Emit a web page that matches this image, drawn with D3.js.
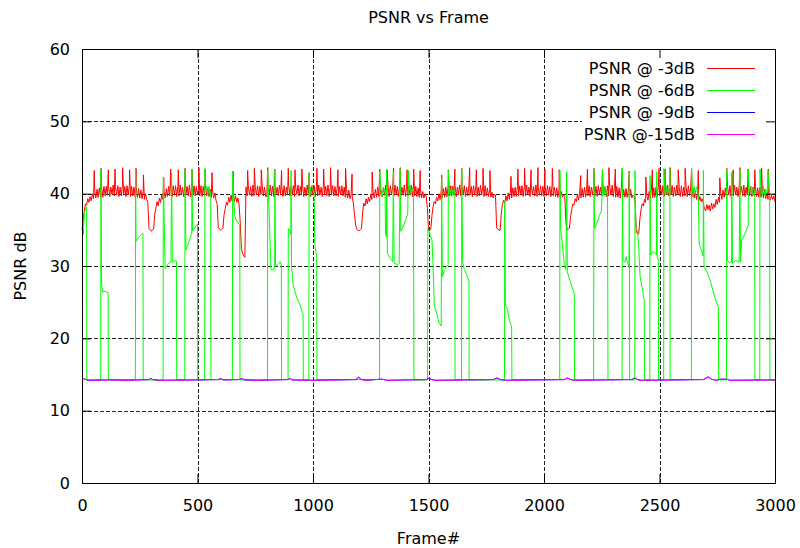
<!DOCTYPE html>
<html>
<head>
<meta charset="utf-8">
<script src="https://d3js.org/d3.v7.min.js"></script>
<style>
    html, body { margin: 0; padding: 0; background: #fff; overflow: hidden; }
    text { font-family: "DejaVu Sans", sans-serif; font-size: 16px; fill: #000; }
    .grid line { stroke: #222; stroke-width: 1; stroke-dasharray: 4,2; }
</style>
</head>
<body>
<svg id="chart" width="800" height="548"></svg>
<script>
// axis ticks
var xTicks = [0, 500, 1000, 1500, 2000, 2500, 3000];
var yTicks = [0, 10, 20, 30, 40, 50, 60];

// PSNR @ -3dB, one reading every 5 frames (frame 0..3000), 20 per row
var redStep = 5;
var redValues = [
    35.0, 36.2, 37.6, 38.6, 38.4, 39.3, 38.8, 39.6, 39.0, 40.0, 39.3, 40.4, 39.4, 40.6, 39.5, 40.8, 39.6, 40.9, 39.5, 41.0,
    39.7, 41.0, 39.8, 41.1, 39.6, 40.9, 39.9, 41.2, 39.7, 41.0, 39.8, 41.1, 39.6, 40.9, 39.7, 41.2, 39.8, 41.0, 39.6, 41.1,
    39.8, 41.1, 39.6, 41.0, 39.7, 40.9, 39.6, 40.8, 39.5, 40.7, 39.4, 40.5, 39.3, 40.3, 39.2, 40.0, 39.2, 38.8, 35.2, 35.0,
    34.8, 35.0, 35.1, 37.2, 38.0, 38.9, 38.3, 39.4, 38.8, 39.8, 39.2, 40.3, 39.4, 40.7, 39.6, 41.0, 39.7, 40.9, 39.6, 41.1,
    39.8, 41.1, 39.6, 41.0, 39.7, 41.2, 39.8, 40.9, 39.6, 41.1, 39.9, 41.0, 39.7, 41.2, 39.6, 40.9, 39.8, 41.1, 39.7, 41.0,
    39.8, 40.9, 39.7, 41.1, 39.6, 41.0, 39.8, 40.9, 39.7, 40.8, 39.6, 40.6, 39.5, 40.4, 39.4, 40.1, 39.1, 38.6, 35.3, 35.1,
    35.0, 35.1, 35.2, 37.1, 37.9, 38.8, 38.4, 39.5, 38.8, 39.8, 39.0, 39.9, 38.9, 39.7, 38.8, 39.4, 38.5, 36.0, 32.4, 31.8,
    31.4, 31.2, 40.9, 39.7, 41.1, 39.8, 41.0, 39.6, 41.2, 39.7, 40.9, 39.8, 41.1, 39.6, 41.0, 39.9, 41.2, 39.7, 40.9, 39.6,
    39.6, 40.9, 39.8, 41.2, 39.7, 41.0, 39.6, 41.1, 39.9, 40.9, 39.7, 41.2, 39.8, 41.0, 39.6, 41.1, 39.7, 40.9, 39.8, 41.2,
    39.7, 41.0, 39.8, 41.1, 39.6, 40.9, 39.9, 41.2, 39.7, 41.0, 39.8, 41.1, 39.6, 40.9, 39.7, 41.2, 39.8, 41.0, 39.6, 41.1,
    39.8, 41.1, 39.6, 41.0, 39.7, 41.2, 39.8, 40.9, 39.6, 41.1, 39.9, 41.0, 39.7, 41.2, 39.6, 40.9, 39.8, 41.1, 39.7, 41.0,
    39.7, 40.9, 39.6, 41.0, 39.8, 41.1, 39.7, 40.9, 39.5, 40.7, 39.4, 40.5, 39.3, 39.9, 39.5, 38.6, 37.0, 35.6, 35.1, 34.9,
    34.9, 35.0, 35.2, 37.5, 38.7, 38.3, 39.3, 38.6, 39.5, 38.9, 39.9, 39.2, 40.3, 39.4, 40.6, 39.5, 40.9, 39.6, 41.0, 39.7,
    39.6, 40.9, 39.8, 41.2, 39.7, 41.0, 39.6, 41.1, 39.9, 40.9, 39.7, 41.2, 39.8, 41.0, 39.6, 41.1, 39.7, 40.9, 39.8, 41.2,
    39.6, 40.9, 39.7, 41.1, 39.8, 41.2, 39.6, 40.9, 39.7, 41.0, 39.6, 40.8, 39.5, 40.7, 39.4, 40.3, 39.4, 39.9, 39.6, 38.0,
    35.0, 35.0, 35.1, 37.0, 38.2, 38.9, 38.6, 39.5, 39.0, 40.0, 39.2, 40.4, 39.4, 40.7, 39.5, 40.9, 39.6, 41.0, 39.7, 41.1,
    39.7, 41.0, 39.8, 41.1, 39.6, 40.9, 39.9, 41.2, 39.7, 41.0, 39.8, 41.1, 39.6, 40.9, 39.7, 41.2, 39.8, 41.0, 39.6, 41.1,
    39.8, 41.1, 39.6, 40.9, 39.7, 41.2, 39.8, 41.0, 39.6, 41.1, 39.7, 40.8, 39.6, 40.6, 39.5, 40.2, 39.4, 39.9, 39.8, 35.3,
    35.1, 35.0, 34.9, 37.2, 38.5, 39.1, 38.7, 39.7, 39.0, 40.1, 39.2, 40.5, 39.4, 40.8, 39.6, 40.9, 39.6, 41.0, 39.7, 41.1,
    39.8, 41.1, 39.6, 41.0, 39.7, 41.2, 39.8, 40.9, 39.6, 41.1, 39.9, 41.0, 39.7, 41.2, 39.6, 40.9, 39.8, 41.1, 39.7, 41.0,
    39.6, 40.9, 39.7, 41.1, 39.8, 41.0, 39.6, 41.2, 39.7, 40.9, 39.6, 40.8, 39.5, 40.6, 39.5, 40.3, 39.5, 39.9, 39.6, 36.0,
    35.0, 35.1, 35.2, 36.8, 37.8, 38.6, 38.4, 39.3, 38.9, 39.9, 39.1, 40.4, 39.4, 40.7, 39.5, 40.9, 39.5, 41.0, 39.7, 41.1,
    39.6, 40.9, 39.8, 41.2, 39.7, 41.0, 39.6, 41.1, 39.9, 40.9, 39.7, 41.2, 39.8, 41.0, 39.6, 41.1, 39.7, 40.9, 39.8, 41.2,
    39.6, 40.9, 39.5, 41.0, 39.5, 40.8, 39.4, 40.9, 39.4, 40.6, 39.5, 40.7, 39.5, 40.5, 39.4, 40.6, 39.4, 39.8, 39.6, 38.5,
    34.6, 34.5, 34.4, 36.5, 37.8, 38.6, 38.3, 39.2, 38.8, 39.8, 39.1, 40.3, 39.3, 40.6, 39.4, 40.8, 39.5, 40.9, 39.6, 41.0,
    39.7, 41.0, 39.8, 41.1, 39.6, 40.9, 39.9, 41.2, 39.7, 41.0, 39.8, 41.1, 39.6, 40.9, 39.7, 41.2, 39.8, 41.0, 39.6, 41.1,
    39.6, 40.9, 39.7, 41.0, 39.6, 41.1, 39.7, 40.8, 39.5, 40.7, 39.4, 40.4, 39.2, 40.0, 39.0, 39.6, 38.9, 39.3, 38.6, 37.9,
    37.6, 38.5, 37.8, 38.4, 37.6, 38.7, 37.9, 38.6, 38.1, 39.2, 38.5, 39.5, 38.8, 40.1, 39.2, 40.5, 39.5, 40.8, 39.6, 40.9,
    39.8, 41.1, 39.6, 41.0, 39.7, 41.2, 39.8, 40.9, 39.6, 41.1, 39.9, 41.0, 39.7, 41.2, 39.6, 40.9, 39.8, 41.1, 39.7, 41.0,
    39.6, 40.9, 39.7, 41.0, 39.6, 40.8, 39.5, 40.9, 39.5, 40.7, 39.4, 40.6, 39.3, 40.2, 39.2, 39.9, 39.1, 39.8, 39.2, 39.7,
    38.9
];

// I-frame peaks of the -3dB curve
var spikeFrames = [53, 83, 114, 143, 176, 206, 234, 266, 354, 384, 417, 446, 476, 506, 534, 563,
    654, 717, 746, 776, 804, 834, 864, 893, 922, 952, 983, 1017, 1046, 1076, 1108, 1141, 1169,
    1256, 1289, 1321, 1349, 1378, 1407, 1436, 1464, 1557, 1586, 1614, 1644, 1678, 1707, 1736, 1766,
    1857, 1887, 1916, 1944, 1974, 2004, 2036, 2066, 2159, 2188, 2216, 2253, 2281, 2309, 2339, 2369,
    2441, 2469, 2498, 2524, 2546, 2581, 2611, 2639, 2668, 2761, 2791, 2819, 2848, 2884, 2913, 2942, 2971];
var spikeTops = [43.2, 43.5, 43.3, 43.4, 43.6, 43.3, 43.5, 42.6, 42.2, 43.4, 43.3, 43.5, 43.4, 43.6, 43.3, 42.9,
    43.1, 43.2, 43.5, 43.3, 43.6, 43.4, 43.2, 43.5, 43.3, 43.4, 42.9, 43.5, 43.4, 43.6, 43.3, 43.5, 42.7,
    43.0, 43.4, 43.3, 43.5, 43.6, 43.3, 43.4, 43.2, 42.6, 43.3, 43.4, 43.5, 43.6, 43.3, 43.5, 43.2,
    42.4, 43.4, 43.5, 43.3, 43.6, 43.4, 43.5, 43.3, 42.5, 43.4, 43.5, 43.3, 43.6, 43.4, 43.5, 43.1,
    42.3, 43.3, 43.5, 43.4, 43.6, 43.3, 43.5, 43.4, 43.2, 42.2, 43.5, 43.3, 43.6, 43.4, 43.3, 43.5, 43.4];

// PSNR @ -6dB, [frame, dB] where the curve turns
var greenPoints = [
    [0, 34.5], [6, 34.4], [10, 37.4], [18, 38], [20, 38.2], [21, 14.25],
    [81, 14.25], [82, 43.4], [85, 27.6], [89, 26.4], [100, 26.5], [113, 26.3], [114, 14.3],
    [231, 14.3], [232, 43.5], [234, 33.4], [245, 33.9], [258, 34.4], [264, 34.5], [265, 14.25],
    [351, 14.25], [352, 42.3], [360, 29.6], [370, 30.2], [385, 30.6], [388, 42.8], [391, 30.5], [405, 30.8], [409, 30.6], [410, 14.3],
    [445, 14.3], [446, 43.4], [450, 32.2], [465, 33.5], [475, 34.5], [476, 43.4], [479, 34.8], [495, 35.6], [500, 35.8], [501, 14.25],
    [531, 14.25], [532, 43.5], [536, 40.6], [540, 41], [545, 39.9], [550, 41], [554, 39.8], [557, 40.3], [558, 14.3],
    [651, 14.3], [652, 43], [656, 40.2], [660, 37], [670, 36.2], [680, 35.8], [683, 35.6], [684, 14.25],
    [803, 14.25], [804, 43.3], [818, 29.6], [825, 29.4], [834, 29.8], [835, 43.4], [838, 29.9], [850, 30.3], [857, 30.6], [863, 30.2], [864, 14.3],
    [892, 14.3], [893, 35.2], [900, 34.8], [904, 34.4], [905, 43.2], [907, 30], [915, 27.2], [930, 25.6], [945, 24.5], [955, 23.5], [957, 23.4], [958, 14.25],
    [982, 14.25], [983, 42.8], [987, 39.8], [990, 40.9], [995, 41], [1000, 40.5], [1005, 40], [1008, 33], [1012, 32], [1016, 31.5], [1017, 14.3],
    [1288, 14.3], [1289, 43], [1295, 40.5], [1300, 39.7], [1305, 40.9], [1312, 40.2], [1314, 34.5], [1318, 34], [1319, 43.4], [1322, 31.8], [1335, 31],
    [1345, 30.6], [1348, 43], [1351, 30.4], [1365, 30.2], [1373, 30.3], [1377, 43.5], [1380, 34.8], [1395, 35.8], [1410, 37.2], [1413, 43.2],
    [1416, 40.5], [1420, 41], [1425, 39.9], [1430, 40.9], [1435, 40.5], [1437, 14.25],
    [1496, 14.25], [1497, 35.2], [1505, 34.5], [1515, 33.6], [1520, 30], [1525, 24.5], [1535, 23.5], [1545, 22.2], [1555, 21.7],
    [1557, 42.2], [1560, 28.5], [1570, 29.5], [1580, 30], [1585, 30.2], [1586, 43.2], [1590, 40.5], [1595, 39.8], [1600, 41], [1605, 39.9], [1610, 40.6], [1614, 40.5], [1615, 14.3],
    [1643, 14.3], [1644, 43.4], [1648, 30.5], [1655, 29.5], [1665, 28.8], [1672, 28.2], [1675, 28], [1676, 14.25],
    [1829, 14.25], [1830, 39], [1833, 24.6], [1842, 24], [1850, 22.5], [1858, 21.8], [1860, 21.6], [1861, 14.3],
    [2068, 14.3], [2069, 43.2], [2072, 35.2], [2080, 33], [2088, 30], [2095, 29.5], [2098, 43], [2101, 29.2], [2112, 28], [2120, 27.2],
    [2128, 26.5], [2131, 26.2], [2132, 14.25],
    [2215, 14.25], [2216, 43.4], [2219, 35.2], [2230, 36], [2240, 37], [2248, 37.6], [2252, 40], [2253, 43.3], [2256, 40.5], [2260, 39.8], [2265, 41], [2270, 39.9], [2275, 40.4], [2277, 14.3],
    [2338, 14.3], [2339, 43.5], [2342, 30.8], [2350, 30.5], [2356, 31.3], [2362, 30.4], [2368, 30], [2369, 43], [2371, 14.25],
    [2393, 14.25], [2394, 43.2], [2397, 35.3], [2405, 34.8], [2410, 32.7], [2416, 28.5], [2425, 27], [2432, 25.5], [2434, 25.3], [2435, 14.3],
    [2458, 14.3], [2459, 42.5], [2462, 31.5], [2470, 32], [2480, 31.8], [2487, 31.6], [2488, 43], [2490, 31.2], [2495, 30.8], [2496, 14.25],
    [2518, 14.25], [2519, 43.5], [2523, 40.5], [2527, 39.8], [2530, 41], [2535, 39.9], [2540, 40.6], [2544, 40.6], [2545, 43.5], [2546, 14.3],
    [2638, 14.3], [2639, 43.5], [2643, 40.3], [2647, 39.8], [2650, 41], [2655, 39.9], [2660, 40.9], [2665, 40.6], [2668, 39.5], [2672, 33], [2680, 32.3], [2689, 31.4], [2690, 43.2],
    [2693, 30], [2705, 29.2], [2718, 28.2], [2728, 27], [2740, 25.6], [2750, 24.6], [2755, 24.3], [2756, 14.25],
    [2790, 14.25], [2791, 43.4], [2794, 30.8], [2805, 30.4], [2812, 30.5], [2813, 43], [2816, 30.3], [2830, 30.8], [2845, 30.5],
    [2848, 43.4], [2851, 30.6], [2856, 33.6], [2870, 34.5], [2884, 35.6], [2885, 43.3], [2888, 40.5], [2895, 41], [2900, 39.9], [2906, 40.8], [2912, 40.3], [2913, 14.3],
    [2934, 14.3], [2935, 43.4], [2940, 40.6], [2945, 39.8], [2950, 41], [2955, 39.8], [2960, 40.6], [2965, 39.9], [2970, 43.2], [2973, 40.6], [2977, 40.4], [2978, 14.25], [3000, 14.25]
];

// PSNR @ -9dB
var bluePoints = [
    [0, 14.5], [12, 14.35], [30, 14.2], [120, 14.25], [200, 14.2], [290, 14.3], [298, 14.45], [306, 14.3], [330, 14.2],
    [500, 14.25], [590, 14.3], [600, 14.45], [612, 14.25], [680, 14.3], [692, 14.45], [704, 14.25], [760, 14.2],
    [890, 14.3], [900, 14.45], [912, 14.25], [1000, 14.2], [1100, 14.25], [1185, 14.3], [1198, 14.6], [1210, 14.3],
    [1230, 14.2], [1270, 14.3], [1300, 14.35], [1320, 14.2], [1490, 14.3], [1502, 14.5], [1514, 14.3], [1530, 14.2],
    [1780, 14.3], [1795, 14.5], [1812, 14.3], [1830, 14.2], [2090, 14.3], [2101, 14.5], [2115, 14.3], [2130, 14.2],
    [2380, 14.3], [2392, 14.5], [2405, 14.3], [2420, 14.2], [2690, 14.3], [2711, 14.65], [2725, 14.35], [2745, 14.2],
    [2765, 14.35], [2790, 14.35], [2805, 14.2], [3000, 14.25]
];

// PSNR @-15dB
var magentaPoints = [
    [0, 14.55], [12, 14.35], [30, 14.2], [120, 14.25], [200, 14.2], [290, 14.3], [298, 14.5], [306, 14.3], [330, 14.2],
    [500, 14.25], [590, 14.3], [600, 14.45], [612, 14.25], [680, 14.3], [692, 14.45], [704, 14.25], [760, 14.2],
    [890, 14.3], [900, 14.45], [912, 14.25], [1000, 14.2], [1100, 14.25], [1185, 14.3], [1198, 14.65], [1210, 14.3],
    [1230, 14.2], [1270, 14.3], [1300, 14.35], [1320, 14.2], [1490, 14.3], [1502, 14.55], [1514, 14.3], [1530, 14.2],
    [1780, 14.3], [1795, 14.55], [1812, 14.3], [1830, 14.2], [2090, 14.3], [2101, 14.55], [2115, 14.3], [2130, 14.2],
    [2380, 14.3], [2392, 14.55], [2405, 14.3], [2420, 14.2], [2690, 14.3], [2711, 14.7], [2725, 14.35], [2745, 14.2],
    [2765, 14.35], [2790, 14.35], [2805, 14.2], [3000, 14.25]
];

var seriesNames = ["PSNR @ -3dB", "PSNR @ -6dB", "PSNR @ -9dB", "PSNR @-15dB"];
var seriesColors = ["#ff0000", "#00ff00", "#0000ff", "#ff00ff"];

var svg = d3.select("#chart"),
    width = +svg.attr("width"),
    height = +svg.attr("height");

var plotLeft = 82, plotRight = 775, plotTop = 49, plotBottom = 483;

var x = d3.scaleLinear().domain([0, 3000]).range([plotLeft, plotRight]);
var y = d3.scaleLinear().domain([0, 60]).range([plotBottom, plotTop]);

svg.append("rect").attr("width", width).attr("height", height).attr("fill", "#fff");

// grid
var grid = svg.append("g").attr("class", "grid");
grid.selectAll(".gx")
    .data(xTicks.slice(1, -1))
    .enter().append("line")
    .attr("x1", function(d) { return Math.round(x(d)) + 0.5; })
    .attr("x2", function(d) { return Math.round(x(d)) + 0.5; })
    .attr("y1", plotBottom).attr("y2", plotTop);
grid.selectAll(".gy")
    .data(yTicks.slice(1, -1))
    .enter().append("line")
    .attr("x1", plotLeft).attr("x2", plotRight)
    .attr("y1", function(d) { return Math.round(y(d)) + 0.5; })
    .attr("y2", function(d) { return Math.round(y(d)) + 0.5; });

// build the -3dB points, peaks merged in by frame
var redPoints = redValues.map(function(v, i) { return [i * redStep, v]; });
spikeFrames.forEach(function(f, i) { redPoints.push([f, spikeTops[i]]); });
redPoints.sort(function(a, b) { return a[0] - b[0]; });

var line = d3.line()
    .x(function(d) { return x(d[0]); })
    .y(function(d) { return y(d[1]); });

var plot = svg.append("g");
[redPoints, greenPoints, bluePoints, magentaPoints].forEach(function(pts, i) {
    plot.append("path")
        .datum(pts)
        .attr("fill", "none")
        .attr("stroke", seriesColors[i])
        .attr("stroke-width", 1)
        .attr("d", line);
});

// key, opaque box
var key = svg.append("g");
key.append("rect")
    .attr("x", 582).attr("y", plotTop + 1)
    .attr("width", plotRight - 582).attr("height", 94)
    .attr("fill", "#fff");
seriesNames.forEach(function(name, i) {
    var ky = 68.3 + i * 21.9;
    key.append("text")
        .attr("x", 695).attr("y", ky)
        .attr("dy", "0.35em")
        .attr("text-anchor", "end")
        .text(name);
    key.append("line")
        .attr("x1", 707).attr("x2", 755)
        .attr("y1", Math.round(ky) + 0.5).attr("y2", Math.round(ky) + 0.5)
        .attr("stroke", seriesColors[i])
        .attr("stroke-width", 1);
});

// axes with inward ticks, mirrored on top and right
function styleAxis(g) {
    g.select(".domain").remove();
    g.selectAll("line").attr("stroke", "#000");
    g.selectAll("text")
        .attr("font-family", "DejaVu Sans, sans-serif")
        .attr("font-size", 16)
        .attr("fill", "#000");
}
svg.append("g")
    .attr("transform", "translate(0," + plotBottom + ")")
    .call(d3.axisBottom(x).tickValues(xTicks).tickSize(-9).tickPadding(17).tickFormat(d3.format("d")))
    .call(styleAxis);
svg.append("g")
    .attr("transform", "translate(0," + plotTop + ")")
    .call(d3.axisTop(x).tickValues(xTicks).tickSize(-9).tickFormat(""))
    .call(styleAxis);
svg.append("g")
    .attr("transform", "translate(" + plotLeft + ",0)")
    .call(d3.axisLeft(y).tickValues(yTicks).tickSize(-9).tickPadding(12).tickFormat(d3.format("d")))
    .call(styleAxis);
svg.append("g")
    .attr("transform", "translate(" + plotRight + ",0)")
    .call(d3.axisRight(y).tickValues(yTicks).tickSize(-9).tickFormat(""))
    .call(styleAxis);

// border
svg.append("rect")
    .attr("x", plotLeft + 0.5).attr("y", plotTop + 0.5)
    .attr("width", plotRight - plotLeft).attr("height", plotBottom - plotTop)
    .attr("fill", "none")
    .attr("stroke", "#000")
    .attr("stroke-width", 1);

// titles
svg.append("text")
    .attr("x", (plotLeft + plotRight) / 2).attr("y", 23)
    .attr("text-anchor", "middle")
    .text("PSNR vs Frame");
svg.append("text")
    .attr("x", (plotLeft + plotRight) / 2).attr("y", 544)
    .attr("text-anchor", "middle")
    .text("Frame#");
svg.append("text")
    .attr("transform", "translate(26," + ((plotTop + plotBottom) / 2) + ") rotate(-90)")
    .attr("text-anchor", "middle")
    .text("PSNR dB");
</script>
</body>
</html>
